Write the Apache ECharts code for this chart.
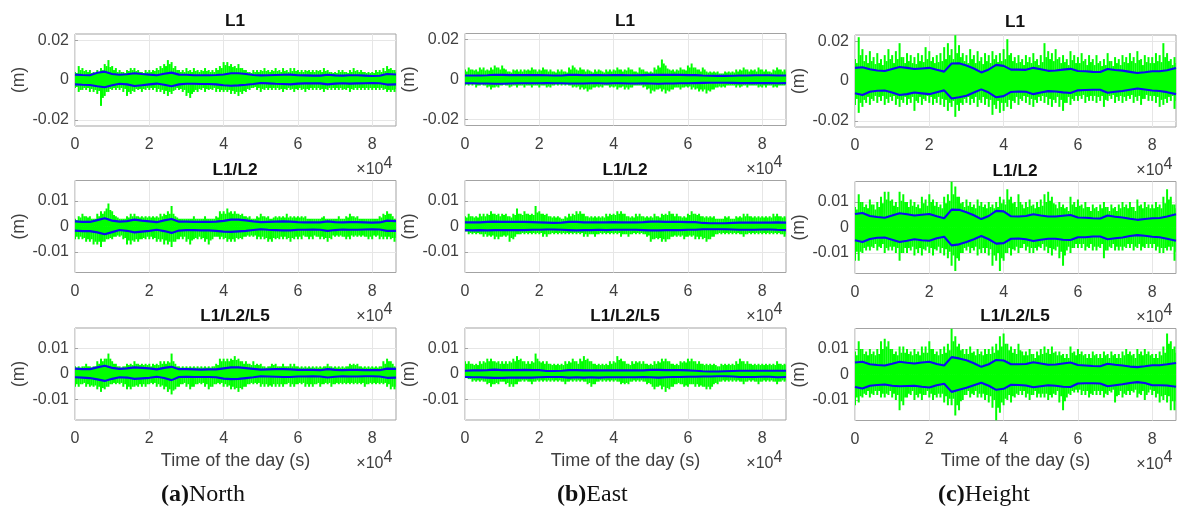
<!DOCTYPE html>
<html><head><meta charset="utf-8">
<style>html,body{margin:0;padding:0;background:#fff}#c{width:1180px;height:508px}</style>
<script src="https://cdn.jsdelivr.net/npm/echarts@6/dist/echarts.min.js"></script>
</head><body><div id="c"></div>
<script>
// Values in millimetres.
// Green residual extremes: one value per 1000 s of the day, on the thousand.
const nL1Hi=[4,7,6,5,5,4,5,6,8,10,7,6,5,4,5,6,6,5,4,5,5,5,6,7,8,10,9,7,5,5,6,5,6,5,5,6,5,5,6,7,9,9,8,7,8,6,5,4,5,5,5,6,5,5,6,5,6,5,6,6,5,5,5,5,5,5,5,6,5,4,4,5,5,4,5,6,5,5,4,4,4,5,5,6,7,6,5];
const nL1Lo=[-4,-6,-5,-5,-6,-6,-7,-13,-8,-6,-5,-5,-5,-6,-8,-7,-6,-5,-6,-5,-5,-5,-6,-6,-7,-8,-7,-5,-5,-6,-8,-9,-6,-6,-5,-6,-5,-5,-6,-6,-6,-6,-7,-7,-8,-7,-6,-5,-4,-5,-6,-5,-5,-5,-5,-5,-6,-5,-5,-6,-5,-5,-6,-5,-5,-5,-5,-6,-5,-5,-5,-5,-5,-5,-6,-5,-5,-5,-5,-5,-5,-5,-5,-5,-6,-6,-6];
const nL12Hi=[3,4,5,4,4,3,5,6,6,9,6,4,3,3,4,5,5,4,4,4,4,4,4,5,5,6,8,4,3,3,3,3,4,3,3,4,3,3,4,6,6,7,6,6,5,5,4,4,3,4,5,4,4,3,4,4,4,5,4,4,4,4,4,3,3,3,3,4,3,3,3,4,3,4,5,4,4,3,3,3,3,3,4,5,6,5,3];
const nL12Lo=[-5,-5,-5,-6,-6,-7,-7,-8,-6,-5,-5,-4,-4,-5,-7,-7,-6,-6,-5,-5,-5,-5,-6,-6,-7,-7,-8,-6,-5,-5,-6,-7,-5,-5,-5,-6,-7,-5,-4,-5,-5,-6,-6,-6,-5,-5,-4,-4,-4,-5,-5,-5,-6,-6,-5,-5,-5,-5,-6,-5,-5,-5,-4,-5,-5,-4,-5,-5,-6,-5,-4,-4,-4,-5,-5,-4,-4,-4,-4,-5,-5,-4,-5,-5,-5,-5,-6];
const nL5Hi=[3,3,3,4,3,3,5,6,6,8,5,4,3,3,4,4,5,4,4,4,4,4,4,5,5,5,8,4,3,3,3,3,3,3,3,3,3,3,4,6,6,6,6,7,6,5,5,4,5,4,4,3,3,4,4,3,4,3,4,4,3,3,3,3,3,3,3,3,4,3,3,3,3,3,4,4,4,3,3,3,3,3,3,5,6,5,3];
const nL5Lo=[-5,-5,-4,-5,-5,-5,-6,-7,-6,-5,-4,-4,-4,-5,-6,-6,-5,-5,-5,-5,-4,-4,-5,-5,-6,-7,-8,-6,-5,-4,-5,-6,-5,-4,-4,-5,-6,-5,-4,-4,-5,-5,-6,-6,-7,-6,-5,-4,-4,-4,-5,-5,-5,-5,-5,-5,-5,-4,-5,-5,-4,-4,-5,-5,-5,-4,-5,-4,-4,-5,-4,-4,-4,-4,-4,-4,-4,-4,-5,-4,-4,-4,-4,-4,-5,-6,-6];
const eL1Hi=[5,6,5,5,6,6,5,6,7,6,7,5,4,5,5,5,5,5,6,5,5,6,5,5,4,5,5,4,6,7,5,6,5,5,4,5,5,4,5,5,5,6,5,5,6,5,4,6,5,4,4,6,7,10,7,5,5,5,6,5,7,8,6,5,6,4,4,4,4,3,4,4,4,5,5,6,5,5,5,6,5,5,4,5,6,5,5];
const eL1Lo=[-3,-3,-3,-4,-3,-3,-4,-5,-4,-4,-3,-3,-4,-3,-4,-3,-4,-3,-4,-3,-4,-3,-4,-4,-3,-3,-3,-3,-3,-4,-4,-5,-5,-6,-5,-4,-4,-4,-3,-4,-4,-5,-4,-5,-5,-4,-3,-3,-4,-5,-7,-6,-5,-6,-7,-6,-5,-4,-5,-4,-4,-5,-5,-6,-6,-7,-6,-5,-4,-4,-4,-3,-3,-4,-4,-3,-4,-3,-3,-4,-4,-4,-3,-4,-4,-3,-3];
const eL12Hi=[4,5,4,4,5,5,5,6,5,5,5,5,4,5,7,5,6,5,5,8,6,5,5,4,4,4,3,4,5,5,6,6,5,4,4,4,4,4,5,5,5,6,6,5,4,4,5,5,4,4,4,5,4,5,5,6,5,5,4,4,5,6,5,5,4,4,4,4,3,3,4,4,3,4,4,5,5,4,4,4,4,4,4,5,5,4,4];
const eL12Lo=[-2,-3,-3,-3,-3,-4,-4,-4,-5,-5,-4,-4,-6,-5,-3,-3,-3,-3,-3,-3,-3,-4,-4,-3,-3,-3,-3,-3,-3,-3,-3,-3,-4,-4,-3,-4,-3,-3,-3,-3,-3,-3,-4,-3,-4,-3,-3,-3,-3,-4,-6,-5,-5,-6,-6,-5,-4,-4,-4,-5,-4,-4,-5,-5,-5,-6,-5,-4,-3,-3,-3,-3,-3,-3,-3,-4,-3,-3,-3,-3,-3,-3,-3,-3,-3,-3,-4];
const eL5Hi=[5,5,4,4,5,5,6,6,5,5,5,5,5,6,7,6,5,5,5,8,5,5,5,4,4,4,4,5,5,6,5,6,7,6,5,4,4,4,4,5,5,7,6,5,4,5,5,5,5,4,4,5,5,6,6,5,4,4,5,5,6,6,5,5,4,4,4,4,3,4,4,4,4,5,6,5,5,4,4,4,4,4,4,4,5,4,4];
const eL5Lo=[-1,-2,-3,-3,-3,-3,-4,-5,-4,-4,-3,-4,-5,-5,-4,-3,-3,-3,-4,-3,-3,-3,-3,-3,-3,-3,-3,-4,-3,-3,-3,-3,-3,-4,-5,-4,-3,-3,-3,-3,-3,-3,-4,-4,-4,-3,-3,-3,-3,-4,-4,-6,-5,-6,-7,-6,-5,-4,-4,-5,-5,-4,-5,-5,-5,-6,-6,-4,-4,-3,-3,-3,-3,-3,-3,-4,-3,-3,-3,-4,-3,-3,-3,-3,-4,-3,-3];
const hL1Hi=[11,22,16,13,15,12,14,11,13,16,13,15,19,12,14,13,12,14,13,17,15,12,13,14,17,19,16,23,18,14,13,16,13,15,12,14,13,15,13,14,16,21,14,12,13,11,13,12,14,11,13,19,15,14,16,12,13,11,15,13,12,14,11,13,11,13,10,11,14,10,12,11,13,12,14,12,15,11,13,12,12,14,13,19,14,11,12];
const hL1Lo=[-12,-16,-13,-11,-12,-10,-11,-10,-12,-11,-10,-12,-13,-11,-12,-11,-15,-11,-12,-10,-11,-12,-11,-12,-13,-15,-13,-18,-15,-12,-11,-12,-11,-13,-11,-12,-13,-17,-14,-16,-15,-13,-14,-11,-12,-10,-11,-12,-13,-11,-10,-11,-12,-13,-11,-13,-15,-11,-12,-10,-10,-9,-11,-10,-10,-11,-10,-13,-10,-9,-11,-10,-11,-10,-9,-11,-10,-12,-9,-10,-10,-11,-13,-12,-11,-10,-14];
const hL12Hi=[8,13,10,9,11,9,10,12,14,14,11,10,14,13,10,11,10,9,12,11,13,11,10,9,12,13,18,16,12,10,11,10,9,11,10,9,10,9,10,12,11,15,12,10,13,9,10,11,9,10,11,13,14,12,9,10,9,8,12,10,11,9,10,8,9,8,9,10,8,9,8,9,10,9,10,8,11,9,10,9,9,10,9,12,15,12,9];
const hL12Lo=[-13,-13,-10,-9,-9,-8,-9,-8,-10,-9,-9,-10,-13,-10,-10,-9,-11,-10,-11,-9,-10,-11,-9,-10,-11,-12,-15,-17,-13,-10,-9,-10,-9,-11,-10,-10,-11,-15,-13,-17,-13,-10,-11,-9,-10,-8,-9,-10,-10,-9,-8,-9,-10,-11,-9,-12,-15,-9,-10,-8,-8,-8,-9,-8,-9,-9,-8,-12,-9,-8,-9,-9,-9,-8,-8,-9,-8,-9,-8,-8,-8,-9,-10,-10,-9,-9,-13];
const hL5Hi=[9,13,10,9,10,9,10,13,14,13,10,9,11,11,10,9,10,9,11,11,13,10,9,10,11,12,18,15,12,10,10,11,9,10,9,10,10,11,12,15,16,12,11,10,12,9,9,10,8,9,10,11,10,11,9,9,8,8,11,9,10,9,8,8,9,8,8,9,8,9,8,8,9,10,9,8,10,9,10,9,8,8,9,11,16,13,11];
const hL5Lo=[-12,-11,-9,-8,-9,-8,-8,-9,-9,-8,-9,-10,-14,-12,-9,-8,-10,-9,-10,-8,-9,-10,-9,-9,-11,-12,-12,-16,-14,-10,-8,-9,-8,-9,-9,-10,-11,-13,-18,-15,-12,-10,-11,-9,-8,-8,-9,-10,-8,-9,-9,-9,-10,-9,-8,-11,-14,-9,-8,-7,-7,-8,-8,-9,-8,-8,-8,-9,-8,-7,-11,-8,-9,-8,-8,-7,-9,-8,-10,-7,-8,-9,-11,-10,-11,-14,-14];
// Green residual extremes half way between those: one value per 1000 s, on the half thousand.
const nL1HiMid=[3.5,5,4.5,4,3.5,3.5,4,5,7,6.5,5,4,4,3.5,4.5,5,4.5,4,3.5,4,4,4.5,5,6,7,8,6,5,4,4,4.5,4,4.5,4,4.5,4.5,4,4,5,6,7.5,7,6.5,6,6,5,4,3.5,4,4,4.5,4.5,4,4.5,4.5,4,4.5,4,4.5,4.5,4,4,4.5,4,4,4.5,4,4.5,4,3.5,3.5,4,4,3.5,4,4.5,4,4,3.5,3.5,3.5,4,4,4.5,5.5,5,4];
const nL1LoMid=[-3.5,-5,-4,-4,-4.5,-5,-5.5,-9,-6,-4.5,-4,-4,-4,-4.5,-6,-5.5,-4.5,-4.5,-4.5,-4,-4,-4,-4.5,-5,-5.5,-6,-5.5,-4,-4.5,-5,-6.5,-7,-5,-4.5,-4,-4.5,-4.5,-4,-4.5,-5,-5,-5,-5.5,-6,-6,-5.5,-4.5,-4,-3.5,-4,-4.5,-4,-4,-4,-4,-4.5,-4.5,-4,-4.5,-4.5,-4,-4.5,-4.5,-4,-4,-4,-4.5,-4.5,-4,-4,-4,-4,-4.5,-4,-4.5,-4,-4,-4,-4,-4,-4,-4,-4,-4.5,-5,-5,-4.5];
const nL12HiMid=[2.5,3.5,4,3.5,3,3,4,5,7,6.5,4.5,3.5,3,3,3.5,4,4,3.5,3.5,3.5,3.5,3.5,3.5,4,4.5,5,5,3.5,3,3,3,3,3,3,3,3,3,3,3.5,5,5,5.5,5,5,4.5,4,3.5,3,3,3.5,4,3.5,3,3.5,3.5,3.5,3.5,3.5,3.5,3.5,3.5,3.5,3,3,3,3,3.5,3,3,3,3,3,3,3.5,4,3.5,3,3,3,3,3,3,3.5,4.5,5,4,3];
const nL12LoMid=[-4,-4,-4.5,-5,-5,-6,-6,-6,-5,-4.5,-4,-3.5,-3.5,-4.5,-5.5,-5.5,-5,-5,-4.5,-4,-4,-4.5,-5,-5,-5.5,-6,-6,-5,-4,-4,-5,-5.5,-4.5,-4,-4.5,-5,-5.5,-4,-4,-4,-4.5,-5,-5,-4.5,-4.5,-4,-3.5,-3.5,-3.5,-4,-4,-4.5,-5,-4.5,-4.5,-4,-4,-4.5,-4.5,-4,-4,-3.5,-4,-4,-3.5,-4,-4,-4.5,-4.5,-3.5,-3.5,-3.5,-4,-4,-3.5,-3.5,-3.5,-3.5,-4,-4,-3.5,-3.5,-4,-4,-4,-4.5,-4.5];
const nL5HiMid=[2.5,2.5,3,3,2.5,3,4,5,6,6,4,3,2.5,3,3.5,3.5,4,3.5,3.5,3.5,3,3.5,3.5,4,4,4.5,5,3,2.5,2.5,2.5,2.5,2.5,2.5,2.5,2.5,2.5,3,3.5,5,5,5,5.5,5.5,5,4,4,3.5,3.5,3.5,3,2.5,3,3.5,3,3,3,3,3,3,2.5,2.5,2.5,2.5,2.5,2.5,2.5,3,3,2.5,2.5,2.5,2.5,3,3.5,3.5,3,2.5,2.5,2.5,2.5,2.5,3,4,5,4,2.5];
const nL5LoMid=[-4,-4,-3.5,-4,-4.5,-4.5,-5,-5.5,-5,-4,-3.5,-3.5,-3.5,-4,-5,-5,-4.5,-4,-4,-4,-3.5,-3.5,-4,-4.5,-5,-6,-6.5,-5,-4,-3.5,-4,-5,-4,-3.5,-3.5,-4,-5,-4,-3.5,-3.5,-4,-4.5,-5,-5.5,-5.5,-5,-4,-3.5,-3.5,-3.5,-4,-4,-4.5,-4,-4,-4,-4,-3.5,-4,-4,-3.5,-3.5,-4,-4,-4,-3.5,-4,-3.5,-3.5,-4,-3.5,-3.5,-3.5,-3.5,-3.5,-3.5,-3.5,-3.5,-4,-3.5,-3.5,-3.5,-3.5,-3.5,-4,-5,-5];
const eL1HiMid=[4,5,4.5,4,5,4.5,4.5,5,6,5,5.5,4,3.5,4.5,4,4,4.5,4.5,5,4,4.5,5,4,4,3.5,4,4,3.5,5,6,4.5,5,4,4.5,3.5,4,4.5,3.5,4,4,4.5,5,4,4.5,5,4,3.5,5,4,3.5,3.5,5,6,8,5.5,4.5,4,4.5,5,4.5,6,6,5,4,5,3.5,3.5,3.5,3,3,3.5,3.5,3.5,4,4.5,5,4,4.5,4,5,4,4,3.5,4.5,5,4,4];
const eL1LoMid=[-2.5,-2.5,-2.5,-3,-2.5,-3,-3.5,-4,-3.5,-3,-2.5,-3,-3.5,-3,-3,-3,-3,-3,-3,-3,-3,-3,-3.5,-3,-2.5,-2.5,-2.5,-2.5,-3,-3.5,-3.5,-4,-4.5,-5,-4,-3.5,-3.5,-3,-3,-3.5,-3.5,-4,-3.5,-4,-4,-3,-3,-3,-3.5,-4.5,-5.5,-5,-4.5,-5,-5.5,-5,-4,-4,-4,-3.5,-3.5,-4,-4.5,-5,-5,-5.5,-5,-4,-3.5,-3.5,-3,-3,-3,-3,-3.5,-3,-3,-3,-3,-3.5,-3,-3,-3,-3.5,-3,-3,-2.5];
const eL12HiMid=[3.5,4,3.5,3.5,4,4,4.5,5,4.5,4,4.5,4,3.5,4.5,5,4.5,5,4.5,4.5,5.5,5,4.5,4,3.5,3.5,3.5,3,3.5,4,4.5,5,5,4,3.5,3.5,3.5,3.5,3.5,4,4.5,4.5,5,5,4,3.5,3.5,4,4,3.5,3.5,3.5,4,3.5,4.5,4.5,5,4,4,3.5,3.5,4.5,5,4.5,4,3.5,3.5,3.5,3,3,3,3.5,3,3,3.5,3.5,4,4,3.5,3.5,3.5,3.5,3.5,3.5,4,4,3.5,3.5];
const eL12LoMid=[-2,-2.5,-2.5,-2.5,-3,-3,-3.5,-3.5,-4,-4,-3.5,-3.5,-4.5,-4,-3,-2.5,-2.5,-2.5,-2.5,-2.5,-2.5,-3,-3,-2.5,-2.5,-2.5,-2.5,-2.5,-2.5,-2.5,-2.5,-2.5,-3,-3,-3,-3,-2.5,-2.5,-2.5,-2.5,-2.5,-2.5,-3,-3,-3,-2.5,-2.5,-2.5,-3,-3.5,-5,-4.5,-4.5,-5,-5,-4,-3.5,-3.5,-3.5,-4,-3.5,-3.5,-4,-4,-4.5,-5,-4,-3,-2.5,-2.5,-2.5,-2.5,-2.5,-2.5,-3,-3,-2.5,-2.5,-2.5,-2.5,-2.5,-2.5,-2.5,-2.5,-2.5,-3,-3];
const eL5HiMid=[4,4,3.5,3.5,4,4.5,5,5,4.5,4,4,4,4.5,5,5.5,5,4,4,4.5,6,4.5,4,4,3.5,3.5,3.5,3.5,4,4.5,5,4,5,5.5,5,4,3.5,3.5,3.5,3.5,4,4.5,5.5,5,4,3.5,4,4.5,4,4,3.5,3.5,4,4.5,5,5,4,3.5,3.5,4.5,4.5,5,5,4,4,3.5,3.5,3.5,3.5,3,3.5,3.5,3.5,3.5,4,5,4,4,3.5,3.5,3.5,3.5,3.5,3.5,3.5,4,3.5,3.5];
const eL5LoMid=[-1.5,-2,-2.5,-2.5,-2.5,-3,-3.5,-4,-3.5,-3,-3,-3.5,-4,-4,-3,-2.5,-2.5,-3,-3,-2.5,-2.5,-2.5,-2.5,-2.5,-2.5,-2.5,-3,-3,-2.5,-2.5,-2.5,-2.5,-3,-3.5,-4,-3,-2.5,-2.5,-2.5,-2.5,-2.5,-3,-3.5,-3.5,-3,-2.5,-2.5,-2.5,-3,-3.5,-5,-5,-4.5,-5,-5.5,-5,-4,-3.5,-4,-4.5,-4,-4,-4,-4.5,-5,-5,-5,-3.5,-3,-2.5,-2.5,-2.5,-2.5,-2.5,-3,-3,-2.5,-2.5,-3,-3,-2.5,-2.5,-2.5,-3,-3,-2.5,-2.5];
const hL1HiMid=[9,13,10,9,10,8.5,9,8,10,11,9,11,12,9,10,9,8.5,10,9.5,11,10,9,9.5,10,11,13,11,14,12,10,9,11,9,10,8.5,10,9,11,9.5,10,11,13,10,9,9.5,8,9.5,9,10,8,9.5,12,11,10,11,9,9.5,8,10.5,9,9,10,8,9.5,8,9,7.5,8,10,7.5,9,8,9.5,9,10,9,10.5,8,9.5,9,9,10,9.5,12,10,8,9];
const hL1LoMid=[-9,-11,-9.5,-8,-9,-7.5,-8,-7.5,-9,-8,-7.5,-9,-9.5,-8,-9,-8,-10,-8,-9,-7.5,-8,-9,-8,-9,-9.5,-11,-10,-12,-11,-9,-8,-9,-8,-9.5,-8,-9,-9.5,-12,-10,-11,-11,-9.5,-10,-8,-9,-7.5,-8,-9,-9.5,-8,-7.5,-8,-9,-9.5,-8,-9.5,-11,-8,-9,-7.5,-7.5,-7,-8,-7.5,-7.5,-8,-7.5,-9.5,-7.5,-7,-8,-7.5,-8,-7.5,-7,-8,-7.5,-9,-7,-7.5,-7.5,-8,-9.5,-9,-8,-7.5,-10];
const hL12HiMid=[7,10,8,7.5,9,7,8,9.5,11,10.5,8.5,8,10.5,10,8,8.5,8,7.5,9.5,8.5,10,8.5,8,7.5,9.5,10.5,13,12,9.5,8,8.5,8,7.5,8.5,8,7.5,8,7.5,8,9.5,9,11,9.5,8,10,7.5,8,8.5,7.5,8,8.5,10,10.5,9.5,7.5,8,7.5,6.5,9,8,8.5,7.5,8,6.5,7.5,6.5,7.5,8,6.5,7.5,6.5,7.5,8,7.5,8,6.5,8.5,7.5,8,7.5,7.5,8,7.5,9.5,11,9,7.5];
const hL12LoMid=[-9.5,-9.5,-8,-7.5,-7.5,-6.5,-7.5,-6.5,-8,-7.5,-7.5,-8,-10,-8,-8,-7.5,-8.5,-8,-8.5,-7.5,-8,-8.5,-7.5,-8,-8.5,-9.5,-11,-12,-10,-8,-7.5,-8,-7.5,-8.5,-8,-8,-8.5,-11,-10,-12,-10,-8,-8.5,-7.5,-8,-6.5,-7.5,-8,-8,-7.5,-6.5,-7.5,-8,-8.5,-7.5,-9.5,-11,-7.5,-8,-6.5,-6.5,-6.5,-7.5,-6.5,-7.5,-7.5,-6.5,-9,-7.5,-6.5,-7.5,-7.5,-7.5,-6.5,-6.5,-7.5,-6.5,-7.5,-6.5,-6.5,-6.5,-7.5,-8,-8,-7.5,-7.5,-9.5];
const hL5HiMid=[7.5,10,8,7.5,8,7.5,8,10,11,10,8,7.5,8.5,8.5,8,7.5,8,7.5,8.5,8.5,10,8,7.5,8,8.5,9.5,13,11,9.5,8,8,8.5,7.5,8,7.5,8,8,8.5,9.5,11,12,9.5,8.5,8,9.5,7.5,7.5,8,6.5,7.5,8,8.5,8,8.5,7.5,7.5,6.5,6.5,8.5,7.5,8,7.5,6.5,6.5,7.5,6.5,6.5,7.5,6.5,7.5,6.5,6.5,7.5,8,7.5,6.5,8,7.5,8,7.5,6.5,6.5,7.5,8.5,12,10,8.5];
const hL5LoMid=[-9,-8.5,-7.5,-6.5,-7.5,-6.5,-6.5,-7.5,-7.5,-6.5,-7.5,-8,-10.5,-9,-7.5,-6.5,-8,-7.5,-8,-6.5,-7.5,-8,-7.5,-7.5,-8.5,-9.5,-9.5,-12,-10.5,-8,-6.5,-7.5,-6.5,-7.5,-7.5,-8,-8.5,-10,-13,-11,-9.5,-8,-8.5,-7.5,-6.5,-6.5,-7.5,-8,-6.5,-7.5,-7.5,-7.5,-8,-7.5,-6.5,-8.5,-10.5,-7.5,-6.5,-6,-6,-6.5,-6.5,-7.5,-6.5,-6.5,-6.5,-7.5,-6.5,-6,-8.5,-6.5,-7.5,-6.5,-6.5,-6,-7.5,-6.5,-8,-6,-6.5,-7.5,-8.5,-8,-8.5,-10.5,-10.5];
// Blue lines: one value per 2000 s of the day.
const nL1BlueHi=[2.7,2.5,2.4,3.6,4.2,3.0,2.6,2.9,3.4,3.0,2.7,2.4,3.1,3.7,2.7,2.6,2.4,2.4,2.4,2.5,2.8,3.4,3.4,3.0,2.5,2.3,2.4,2.5,2.6,2.7,2.4,2.3,2.2,2.2,2.6,2.3,2.2,2.4,2.4,2.2,2.0,2.1,3.0,2.8];
const nL1BlueLo=[-2.2,-2.4,-2.5,-3.1,-3.6,-2.6,-1.9,-2.2,-3.0,-2.6,-2.2,-1.8,-2.4,-3.1,-2.2,-1.9,-1.9,-2.0,-2.0,-2.2,-2.6,-2.9,-2.7,-2.4,-2.0,-1.5,-1.7,-1.9,-2.0,-2.2,-1.8,-1.7,-1.6,-1.7,-2.2,-1.8,-1.6,-1.8,-1.7,-1.6,-1.5,-1.6,-2.3,-2.2];
const nL12BlueHi=[2.0,1.8,1.8,2.5,3.2,2.3,1.9,2.1,2.7,2.3,2.0,1.7,2.4,2.9,1.9,1.9,1.8,1.8,1.8,1.9,2.2,2.7,2.7,2.4,2.0,1.7,1.8,1.9,2.0,1.9,1.7,1.6,1.6,1.6,2.0,1.7,1.6,1.7,1.7,1.6,1.5,1.6,2.3,2.1];
const nL12BlueLo=[-1.6,-1.8,-1.8,-2.3,-3.0,-2.2,-1.4,-1.7,-2.3,-2.0,-1.7,-1.3,-1.8,-2.5,-1.6,-1.4,-1.4,-1.5,-1.5,-1.7,-2.0,-2.1,-1.9,-1.7,-1.4,-1.1,-1.3,-1.4,-1.5,-1.5,-1.3,-1.3,-1.2,-1.3,-1.7,-1.4,-1.2,-1.3,-1.3,-1.2,-1.1,-1.2,-1.7,-1.7];
const nL5BlueHi=[2.1,1.9,1.9,2.6,3.2,2.4,2.0,2.2,2.6,2.4,2.2,1.8,2.4,2.8,1.9,1.9,1.8,1.7,1.8,1.8,2.2,2.6,2.6,2.3,2.0,1.7,1.8,1.9,1.9,1.8,1.6,1.6,1.6,1.5,1.9,1.6,1.5,1.6,1.6,1.5,1.5,1.5,2.1,2.0];
const nL5BlueLo=[-1.3,-1.4,-1.6,-2.1,-2.7,-1.9,-1.3,-1.4,-1.9,-1.7,-1.5,-1.1,-1.6,-2.4,-1.2,-1.1,-1.2,-1.2,-1.2,-1.3,-1.8,-2.0,-1.9,-1.6,-1.3,-0.9,-1.0,-1.1,-1.2,-1.2,-1.0,-1.0,-0.9,-1.0,-1.4,-1.1,-0.9,-1.0,-1.0,-0.9,-0.9,-1.0,-1.5,-1.4];
const eL1BlueHi=[2.0,2.0,2.0,2.1,2.4,2.3,2.2,2.2,2.2,2.2,2.2,2.1,2.0,2.0,2.3,2.3,2.1,2.2,2.2,2.1,2.2,2.2,2.1,2.1,2.2,2.3,2.4,2.3,2.3,2.3,2.2,2.2,2.0,1.9,1.8,1.8,1.9,2.0,2.0,2.1,2.1,2.1,2.0,2.0];
const eL1BlueLo=[-1.9,-1.9,-2.0,-2.0,-2.1,-2.1,-2.0,-1.9,-1.9,-1.9,-1.9,-1.8,-1.9,-1.9,-2.0,-2.0,-2.0,-1.9,-1.9,-2.0,-1.9,-1.9,-2.0,-2.0,-1.9,-2.0,-2.1,-2.0,-2.0,-1.9,-1.9,-1.8,-1.7,-1.6,-1.6,-1.6,-1.7,-1.8,-1.8,-1.8,-1.8,-1.8,-1.9,-1.8];
const eL12BlueHi=[1.6,1.6,1.6,1.8,1.9,1.8,1.8,1.8,1.8,1.7,1.6,1.5,1.4,1.5,1.8,1.8,1.6,1.6,1.6,1.6,1.7,1.6,1.6,1.6,1.7,1.9,1.9,1.8,1.8,1.8,1.7,1.7,1.4,1.3,1.3,1.3,1.4,1.5,1.5,1.5,1.5,1.5,1.6,1.5];
const eL12BlueLo=[-1.4,-1.5,-1.4,-1.5,-1.4,-1.4,-1.4,-1.4,-1.4,-1.3,-1.3,-1.2,-1.2,-1.3,-1.4,-1.5,-1.4,-1.4,-1.3,-1.4,-1.3,-1.3,-1.3,-1.3,-1.4,-1.5,-1.5,-1.4,-1.4,-1.4,-1.3,-1.3,-1.1,-1.1,-1.1,-1.1,-1.2,-1.3,-1.3,-1.3,-1.2,-1.2,-1.3,-1.4];
const eL5BlueHi=[1.3,1.4,1.4,1.5,1.7,1.5,1.5,1.5,1.6,1.5,1.5,1.2,1.2,1.3,1.5,1.5,1.4,1.4,1.4,1.4,1.4,1.4,1.4,1.4,1.4,1.6,1.6,1.5,1.5,1.5,1.4,1.3,1.1,1.0,1.0,1.1,1.2,1.3,1.3,1.3,1.3,1.3,1.3,1.3];
const eL5BlueLo=[-1.2,-1.3,-1.3,-1.4,-1.5,-1.5,-1.4,-1.4,-1.4,-1.4,-1.3,-1.2,-1.2,-1.2,-1.4,-1.3,-1.4,-1.3,-1.4,-1.3,-1.3,-1.3,-1.3,-1.3,-1.2,-1.3,-1.4,-1.3,-1.2,-1.2,-1.1,-1.1,-1.0,-1.0,-0.9,-0.9,-1.0,-1.2,-1.2,-1.2,-1.1,-1.1,-1.3,-1.2];
const hL1BlueHi=[6.6,6.9,5.9,5.3,5.0,6.0,7.0,6.6,6.0,6.3,6.6,5.6,4.7,8.8,8.9,7.8,6.3,4.3,5.8,8.1,7.6,5.7,5.7,5.6,6.6,5.9,5.1,5.3,5.7,6.1,5.0,4.9,4.6,4.5,6.0,5.5,5.2,4.6,4.0,4.4,4.9,4.9,5.4,6.5];
const hL1BlueLo=[-6.2,-7.0,-5.4,-4.9,-4.8,-5.8,-7.0,-6.6,-5.8,-6.2,-6.6,-5.6,-4.7,-8.8,-8.2,-7.4,-5.8,-4.2,-5.8,-8.2,-7.6,-5.5,-5.3,-5.4,-6.6,-5.8,-5.1,-5.3,-5.7,-6.0,-4.7,-4.5,-4.4,-4.4,-5.9,-5.4,-5.0,-4.4,-3.8,-4.3,-4.8,-5.0,-5.6,-6.6];
const hL12BlueHi=[5.3,5.7,4.5,4.1,3.8,4.7,5.6,5.2,4.7,5.0,5.3,4.4,3.6,7.0,6.9,6.0,4.8,3.3,4.5,6.5,6.3,4.4,4.3,4.5,5.2,4.7,4.3,4.3,4.6,4.9,3.9,3.8,3.6,3.5,4.7,4.2,3.9,3.4,3.0,3.3,3.6,3.7,4.3,5.2];
const hL12BlueLo=[-5.0,-5.7,-4.5,-4.0,-3.9,-4.8,-5.7,-5.2,-4.6,-5.0,-5.2,-4.2,-3.6,-7.0,-6.6,-5.7,-4.6,-3.3,-4.6,-6.3,-6.1,-4.4,-4.3,-4.6,-5.3,-4.8,-4.4,-4.4,-4.8,-4.9,-3.8,-3.8,-3.5,-3.5,-4.6,-4.2,-3.9,-3.3,-3.0,-3.2,-3.6,-3.8,-4.4,-5.2];
const hL5BlueHi=[4.7,5.0,4.0,3.7,3.5,4.2,5.0,4.6,4.3,4.7,5.0,4.1,3.5,6.8,6.3,5.6,4.4,3.0,4.0,5.7,5.5,4.0,4.0,4.1,4.8,4.3,3.8,3.9,4.3,4.7,3.7,3.5,3.3,3.2,4.2,3.8,3.5,3.1,2.9,3.2,3.6,3.6,4.0,4.5];
const hL5BlueLo=[-4.9,-5.5,-4.4,-4.1,-3.9,-4.4,-4.6,-4.5,-4.4,-4.8,-5.1,-4.2,-3.6,-6.8,-6.0,-5.2,-4.2,-3.2,-4.4,-6.0,-5.6,-4.0,-4.1,-4.3,-5.0,-4.6,-4.2,-4.4,-4.8,-4.9,-3.5,-3.4,-3.4,-3.5,-4.6,-4.2,-3.8,-3.3,-3.0,-3.3,-4.2,-4.2,-4.3,-4.8];

const panelTitles=['L1','L1/L2','L1/L2/L5'];
const yTickLabels=[[-0.02,0,0.02],[-0.01,0,0.01],[-0.01,0,0.01]];
const yLimits=[0.0231,0.018,0.018];
const captions=[['(a)','North'],['(b)','East'],['(c)','Height']];
const xName='Time of the day (s)';

const panels=[
 [[nL1Hi,nL1Lo,nL1HiMid,nL1LoMid,nL1BlueHi,nL1BlueLo],[nL12Hi,nL12Lo,nL12HiMid,nL12LoMid,nL12BlueHi,nL12BlueLo],[nL5Hi,nL5Lo,nL5HiMid,nL5LoMid,nL5BlueHi,nL5BlueLo]],
 [[eL1Hi,eL1Lo,eL1HiMid,eL1LoMid,eL1BlueHi,eL1BlueLo],[eL12Hi,eL12Lo,eL12HiMid,eL12LoMid,eL12BlueHi,eL12BlueLo],[eL5Hi,eL5Lo,eL5HiMid,eL5LoMid,eL5BlueHi,eL5BlueLo]],
 [[hL1Hi,hL1Lo,hL1HiMid,hL1LoMid,hL1BlueHi,hL1BlueLo],[hL12Hi,hL12Lo,hL12HiMid,hL12LoMid,hL12BlueHi,hL12BlueLo],[hL5Hi,hL5Lo,hL5HiMid,hL5LoMid,hL5BlueHi,hL5BlueLo]]
];

const FONT='"Liberation Sans",Arial,sans-serif';
const INK='#404040';
const lefts=[75,465,855], W=321, H=92;
const tops=[[34,180.5,328],[33.5,180.5,328],[35,181.5,328.5]];
const titleRise=[12.3,10.5,12];

const grid=[],xAxis=[],yAxis=[],series=[],graphic=[];
function renderSpike(params,api){
  const a=api.coord([api.value(0),api.value(1)]), b=api.coord([api.value(0),api.value(2)]);
  return {type:'line',shape:{x1:a[0],y1:a[1],x2:b[0],y2:b[1]},style:{stroke:'#00ff00',lineWidth:2}};
}
const fmt=v=>v===0?'0':String(v);
let n=0;
panels.forEach((col,c)=>col.forEach((p,r)=>{
  const [hi,lo,hiMid,loMid,bHi,bLo]=p, top=tops[c][r], left=lefts[c];
  grid.push({left,top,width:W,height:H,show:true,backgroundColor:'#fff',borderColor:'#a3a3a3',borderWidth:1,containLabel:false});
  xAxis.push({type:'value',gridIndex:n,min:0,max:86400,interval:20000,
    axisLine:{show:false},axisTick:{show:true,inside:true,length:3,lineStyle:{color:'#a3a3a3'}},
    axisLabel:{showMaxLabel:false,margin:11,fontFamily:FONT,fontSize:16,color:INK,formatter:v=>String(v/10000)},
    splitLine:{show:true,showMaxLine:false,lineStyle:{color:'#e6e6e6',width:1}},
    ...(r===2?{name:xName,nameLocation:'middle',nameGap:32,nameTextStyle:{fontFamily:FONT,fontSize:18,color:INK}}:{})});
  yAxis.push({type:'value',gridIndex:n,min:-yLimits[r],max:yLimits[r],
    axisLine:{show:false},
    axisTick:{show:true,inside:true,length:3,customValues:yTickLabels[r],lineStyle:{color:'#a3a3a3'}},
    axisLabel:{margin:6,fontFamily:FONT,fontSize:16,color:INK,customValues:yTickLabels[r],formatter:fmt},
    splitLine:{show:true,lineStyle:{color:'#e6e6e6',width:1}},
    name:'(m)',nameLocation:'middle',nameGap:43,nameRotate:90,nameTextStyle:{fontFamily:FONT,fontSize:17.5,color:INK}});
  const spikes=hi.map((v,i)=>[i*1000,v/1000,lo[i]/1000]).concat(hiMid.map((v,i)=>[i*1000+500,v/1000,loMid[i]/1000]));
  series.push({type:'custom',xAxisIndex:n,yAxisIndex:n,clip:true,z:2,silent:true,
    renderItem:renderSpike,encode:{x:0,y:[1,2]},data:spikes});
  const blue=(arr)=>arr.map((v,i)=>[i===arr.length-1?86400:i*2000,v/1000]);
  [bHi,bLo].forEach(arr=>series.push({type:'line',xAxisIndex:n,yAxisIndex:n,z:3,silent:true,showSymbol:false,smooth:false,
    lineStyle:{color:'#0c0cf0',width:2.1},areaStyle:{color:'#00ff00',opacity:1},data:blue(arr)}));
  graphic.push({type:'text',z:10,x:left+160,y:top-titleRise[r],style:{text:panelTitles[r],textAlign:'center',textVerticalAlign:'middle',font:'bold 17.2px '+FONT,fill:'#111'}});
  graphic.push({type:'text',z:10,x:left+308.5,y:top+H+44,style:{text:'×10',textAlign:'right',textVerticalAlign:'middle',font:'16px '+FONT,fill:INK}});
  graphic.push({type:'text',z:10,x:left+308.5,y:top+H+37.5,style:{text:'4',textAlign:'left',textVerticalAlign:'middle',font:'16px '+FONT,fill:INK}});
  n++;
}));
captions.forEach((cap,c)=>{
  const x=[161,557,938][c];
  graphic.push({type:'text',z:10,x,y:495,style:{
    text:'{b|'+cap[0]+'}{r|'+cap[1]+'}',textVerticalAlign:'middle',
    rich:{b:{font:'bold 24px "Liberation Serif",serif',fill:'#111',color:'#111'},r:{font:'24px "Liberation Serif",serif',fill:'#111',color:'#111'}}}});
});

echarts.init(document.getElementById('c'),null,{renderer:'canvas'}).setOption({
  animation:false,backgroundColor:'#fff',grid,xAxis,yAxis,series,graphic
});
</script></body></html>
